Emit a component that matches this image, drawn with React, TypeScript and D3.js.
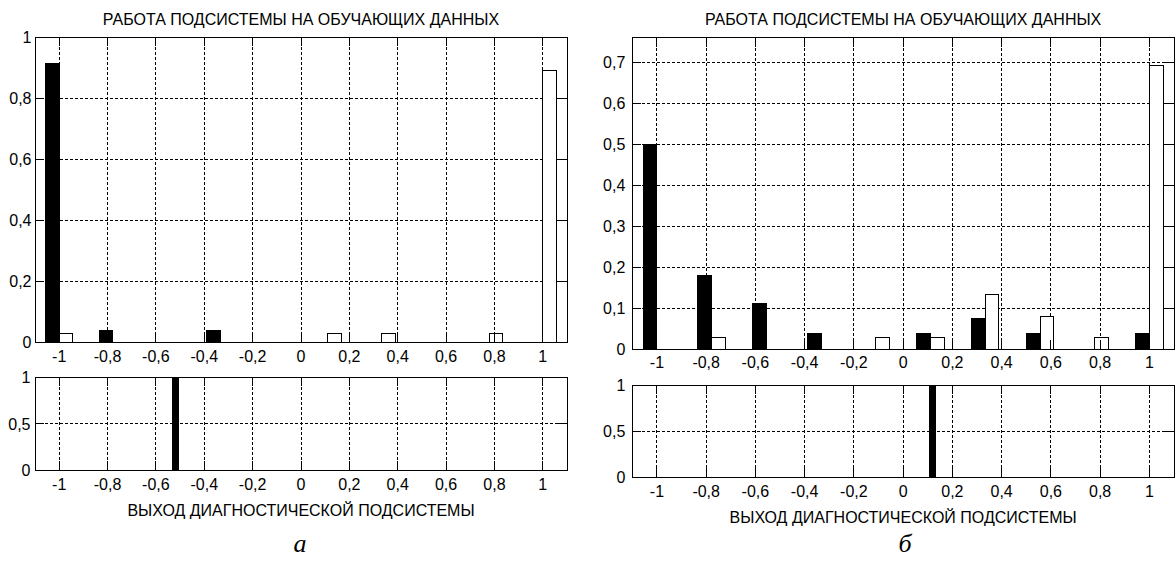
import React from 'react';
import * as d3 from 'd3';

// ---- data ----
const binCenters = [-1, -0.778, -0.556, -0.333, -0.111, 0.111, 0.333, 0.556, 0.778, 1];
const xTicks = [-1, -0.8, -0.6, -0.4, -0.2, 0, 0.2, 0.4, 0.6, 0.8, 1];

const leftBlack = [0.914, 0.039, 0, 0.037, 0, 0, 0, 0, 0, 0];
const leftWhite = [0.027, 0, 0, 0, 0, 0.027, 0.027, 0, 0.027, 0.89];
const rightBlack = [0.5, 0.179, 0.11, 0.037, 0, 0.037, 0.074, 0.037, 0, 0.037];
const rightWhite = [0, 0.028, 0, 0, 0.028, 0.028, 0.132, 0.08, 0.028, 0.693];

const leftOutput = -0.518;
const rightOutput = 0.12;

const leftYTicks = [0, 0.2, 0.4, 0.6, 0.8, 1];
const rightYTicks = [0, 0.1, 0.2, 0.3, 0.4, 0.5, 0.6, 0.7];
const bottomYTicks = [0, 0.5, 1];

const titleText = 'РАБОТА ПОДСИСТЕМЫ НА ОБУЧАЮЩИХ ДАННЫХ';
const xLabelText = 'ВЫХОД ДИАГНОСТИЧЕСКОЙ ПОДСИСТЕМЫ';
const panelLetters = ['а', 'б'];

const FONT = "'Liberation Sans', Arial, sans-serif";
const FS = 16;
const TICK = 9;
const BAR_W = 0.056;
const OUT_W = 0.03;

const fmt = (d: number) => (d === 0 ? '0' : String(d).replace('.', ','));

type AxesProps = {
  x0: number; x1: number; y0: number; y1: number;
  yMax: number; yTicks: number[];
  xLabelBaseline: number; yLabelGap: number;
  render: (xs: d3.ScaleLinear<number, number>, ys: d3.ScaleLinear<number, number>) => React.ReactNode;
};

function Axes({ x0, x1, y0, y1, yMax, yTicks, xLabelBaseline, yLabelGap, render }: AxesProps) {
  const xs = d3.scaleLinear().domain([-1.1, 1.1]).range([x0, x1]);
  const ys = d3.scaleLinear().domain([0, yMax]).range([y1, y0]);
  return (
    <g>
      <rect x={x0} y={y0} width={x1 - x0} height={y1 - y0} fill="#fff" />
      <g stroke="#000" strokeWidth={1} strokeDasharray="3,2" shapeRendering="crispEdges">
        {xTicks.map((t) => (
          <line key={'gx' + t} x1={xs(t)} x2={xs(t)} y1={y0} y2={y1} />
        ))}
        {yTicks.map((t) => (
          <line key={'gy' + t} x1={x0} x2={x1} y1={ys(t)} y2={ys(t)} />
        ))}
      </g>
      {render(xs, ys)}
      <g stroke="#000" strokeWidth={1} shapeRendering="crispEdges">
        {xTicks.map((t) => (
          <g key={'tx' + t}>
            <line x1={xs(t)} x2={xs(t)} y1={y1} y2={y1 - TICK} />
            <line x1={xs(t)} x2={xs(t)} y1={y0} y2={y0 + TICK} />
          </g>
        ))}
        {yTicks.map((t) => (
          <g key={'ty' + t}>
            <line x1={x0} x2={x0 + TICK} y1={ys(t)} y2={ys(t)} />
            <line x1={x1} x2={x1 - TICK} y1={ys(t)} y2={ys(t)} />
          </g>
        ))}
        <rect x={x0} y={y0} width={x1 - x0} height={y1 - y0} fill="none" />
      </g>
      <g fontFamily={FONT} fontSize={FS} fill="#000">
        {xTicks.map((t) => (
          <text key={'lx' + t} x={xs(t)} y={xLabelBaseline} textAnchor="middle">{fmt(t)}</text>
        ))}
        {yTicks.map((t) => (
          <text key={'ly' + t} x={x0 - yLabelGap} y={ys(t) + 6} textAnchor="end">{fmt(t)}</text>
        ))}
      </g>
    </g>
  );
}

function Bars({ xs, ys, black, white }: { xs: any; ys: any; black: number[]; white: number[] }) {
  return (
    <g stroke="#000" strokeWidth={1} shapeRendering="crispEdges">
      {binCenters.map((c, i) =>
        black[i] > 0 ? (
          <rect key={'b' + i} x={xs(c - BAR_W)} y={ys(black[i])} width={xs(c) - xs(c - BAR_W)} height={ys(0) - ys(black[i])} fill="#000" />
        ) : null
      )}
      {binCenters.map((c, i) =>
        white[i] > 0 ? (
          <rect key={'w' + i} x={xs(c)} y={ys(white[i])} width={xs(c + BAR_W) - xs(c)} height={ys(0) - ys(white[i])} fill="#fff" />
        ) : null
      )}
    </g>
  );
}

function OutBar({ xs, ys, v }: { xs: any; ys: any; v: number }) {
  return (
    <rect x={xs(v - OUT_W / 2)} y={ys(1)} width={xs(v + OUT_W / 2) - xs(v - OUT_W / 2)} height={ys(0) - ys(1)} fill="#000" shapeRendering="crispEdges" />
  );
}

export default function App() {
  const panels = [
    {
      x0: 35, x1: 567, topY0: 37, topY1: 342, yMax: 1, yTicks: leftYTicks,
      black: leftBlack, white: leftWhite, topLabelY: 362, topGap: 3.5,
      botY0: 377, botY1: 470, botLabelY: 490, botGap: 4.5, out: leftOutput,
      xLabelY: 516, letterX: 300, letter: panelLetters[0],
    },
    {
      x0: 632.3, x1: 1174, topY0: 37.5, topY1: 349, yMax: 0.761, yTicks: rightYTicks,
      black: rightBlack, white: rightWhite, topLabelY: 368, topGap: 7,
      botY0: 385, botY1: 477, botLabelY: 497, botGap: 7, out: rightOutput,
      xLabelY: 523, letterX: 905, letter: panelLetters[1],
    },
  ];
  return (
    <svg width={1176} height={564} style={{ position: 'absolute', left: 0, top: 0, background: '#fff' }}>
      <rect x={0} y={0} width={1176} height={564} fill="#fff" />
      {panels.map((p, k) => {
        const xs = d3.scaleLinear().domain([-1.1, 1.1]).range([p.x0, p.x1]);
        const mid = xs(0);
        return (
          <g key={k}>
            <text x={mid} y={25} textAnchor="middle" fontFamily={FONT} fontSize={FS}>{titleText}</text>
            <Axes x0={p.x0} x1={p.x1} y0={p.topY0} y1={p.topY1} yMax={p.yMax} yTicks={p.yTicks}
              xLabelBaseline={p.topLabelY} yLabelGap={p.topGap}
              render={(xs2, ys2) => <Bars xs={xs2} ys={ys2} black={p.black} white={p.white} />} />
            <Axes x0={p.x0} x1={p.x1} y0={p.botY0} y1={p.botY1} yMax={1} yTicks={bottomYTicks}
              xLabelBaseline={p.botLabelY} yLabelGap={p.botGap}
              render={(xs2, ys2) => <OutBar xs={xs2} ys={ys2} v={p.out} />} />
            <text x={mid} y={p.xLabelY} textAnchor="middle" fontFamily={FONT} fontSize={FS}>{xLabelText}</text>
            <text x={p.letterX} y={552} textAnchor="middle" fontFamily="'Liberation Serif', 'Times New Roman', serif" fontStyle="italic" fontSize={26}>{p.letter}</text>
          </g>
        );
      })}
    </svg>
  );
}
